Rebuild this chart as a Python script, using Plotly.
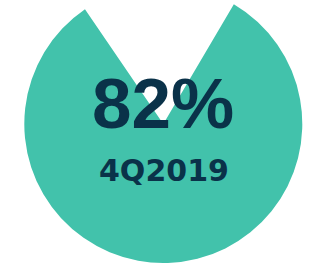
import plotly.graph_objects as go

# Data
labels = ["Achieved", "Remaining"]
values = [82, 18]
headline = "82%"
period = "4Q2019"

TEAL = "#42C2AB"
NAVY = "#0A3249"

W, H = 309, 280
SHIFT = 15  # px the figure is moved up so the pie top is cropped like the reference

fig = go.Figure(
    go.Pie(
        labels=labels,
        values=values,
        marker=dict(colors=[TEAL, "rgba(0,0,0,0)"], line=dict(width=0)),
        sort=False,
        direction="clockwise",
        rotation=30.5,
        textinfo="none",
        hoverinfo="skip",
        showlegend=False,
        domain=dict(x=[24.3 / W, 302.3 / W], y=[(H - 278) / H, 1.0]),
    )
)

def py(px_from_top):
    return 1 - (px_from_top + SHIFT) / H

fig.add_annotation(
    text=headline, x=162.5 / W, y=py(103), xref="paper", yref="paper",
    showarrow=False, xanchor="center", yanchor="middle",
    font=dict(family="Liberation Sans", size=71, color=NAVY, weight=700),
)
fig.add_annotation(
    text=period, x=164 / W, y=py(170), xref="paper", yref="paper",
    showarrow=False, xanchor="center", yanchor="middle",
    font=dict(family="DejaVu Sans", size=30, color=NAVY, weight=700),
)

fig.update_layout(
    width=W, height=H,
    margin=dict(l=0, r=0, t=0, b=0),
    paper_bgcolor="white", plot_bgcolor="white",
)

post = (
    "document.body.style.margin='0';"
    "document.body.style.overflow='hidden';"
    "var gd=document.getElementById('{plot_id}');"
    f"gd.style.marginTop='-{SHIFT}px';"
)
fig.write_html("out.html", post_script=post, config={"displayModeBar": False})
